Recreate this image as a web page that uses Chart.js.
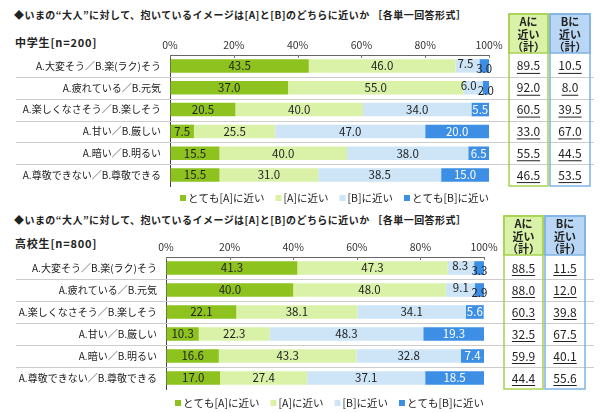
<!DOCTYPE html>
<html>
<head>
<meta charset="utf-8">
<script src="https://cdn.jsdelivr.net/npm/chart.js@4.4.0/dist/chart.umd.min.js"></script>
<style>
  body { margin: 0; background: #fff; }
  #wrap { position: relative; width: 600px; height: 413px; overflow: hidden; font-family: "Noto Sans CJK JP", sans-serif; }
  canvas { position: absolute; left: 0; }
  .title { position: absolute; left: 14px; font-size: 10px; line-height: 14px; font-weight: bold; color: #222; white-space: nowrap; letter-spacing: 0.45px; }
  .group { position: absolute; left: 15px; font-size: 11px; line-height: 14px; font-weight: bold; color: #222; white-space: nowrap; letter-spacing: 0.8px; }
</style>
</head>
<body>
<div id="wrap">
  <div class="title" style="top:8px">◆いまの“大人”に対して、抱いているイメージは[A]と[B]のどちらに近いか ［各単一回答形式］</div>
  <div class="group" style="top:35px">中学生[n=200]</div>
  <div class="title" style="top:213px">◆いまの“大人”に対して、抱いているイメージは[A]と[B]のどちらに近いか ［各単一回答形式］</div>
  <div class="group" style="top:236px">高校生[n=800]</div>
  <canvas id="chart-jhs" width="600" height="206" style="top:0"></canvas>
  <canvas id="chart-hs" width="600" height="207" style="top:206px"></canvas>
</div>
<script>
const categories = ['A.大変そう／B.楽(ラク)そう', 'A.疲れている／B.元気', 'A.楽しくなさそう／B.楽しそう', 'A.甘い／B.厳しい', 'A.暗い／B.明るい', 'A.尊敬できない／B.尊敬できる'];
const seriesNames = ['とても[A]に近い', '[A]に近い', '[B]に近い', 'とても[B]に近い'];
const seriesColors = ['#8dc21f', '#d9f2a8', '#cde5f7', '#3d8fe6'];
const tickValues = [0, 20, 40, 60, 80, 100];

// 中学生 n=200
const jhsVeryA = [43.5, 37.0, 20.5, 7.5, 15.5, 15.5];
const jhsA     = [46.0, 55.0, 40.0, 25.5, 40.0, 31.0];
const jhsB     = [7.5, 6.0, 34.0, 47.0, 38.0, 38.5];
const jhsVeryB = [3.0, 2.0, 5.5, 20.0, 6.5, 15.0];
const jhsTotalA = [89.5, 92.0, 60.5, 33.0, 55.5, 46.5];
const jhsTotalB = [10.5, 8.0, 39.5, 67.0, 44.5, 53.5];

// 高校生 n=800
const hsVeryA = [41.3, 40.0, 22.1, 10.3, 16.6, 17.0];
const hsA     = [47.3, 48.0, 38.1, 22.3, 43.3, 27.4];
const hsB     = [8.3, 9.1, 34.1, 48.3, 32.8, 37.1];
const hsVeryB = [3.3, 2.9, 5.6, 19.3, 7.4, 18.5];
const hsTotalA = [88.5, 88.0, 60.3, 32.5, 59.9, 44.4];
const hsTotalB = [11.5, 12.0, 39.8, 67.5, 40.1, 55.6];

const FONT = '"Noto Sans CJK JP", sans-serif';

const decor = {
    id: 'decor',
    beforeDatasetsDraw(chart) {
        const { ctx, scales: { y } } = chart;
        ctx.save();
        ctx.strokeStyle = '#cccccc';
        ctx.lineWidth = 1;
        for (let i = 1; i < chart.data.labels.length; i++) {
            const yy = Math.round((y.getPixelForValue(i - 1) + y.getPixelForValue(i)) / 2) + 0.5;
            ctx.beginPath();
            ctx.moveTo(16, yy);
            ctx.lineTo(594, yy);
            ctx.stroke();
        }
        ctx.restore();
    },
    afterDatasetsDraw(chart, args, opts) {
        const { ctx, chartArea: ca, scales: { x, y } } = chart;
        ctx.save();

        // small inward ticks on the top axis
        ctx.strokeStyle = '#777';
        ctx.lineWidth = 1;
        tickValues.forEach(v => {
            const px = Math.round(x.getPixelForValue(v)) + 0.5;
            ctx.beginPath();
            ctx.moveTo(px, ca.top);
            ctx.lineTo(px, ca.top + 3);
            ctx.stroke();
        });

        // values inside the bars
        ctx.font = '11.5px ' + FONT;
        ctx.textBaseline = 'middle';
        const ds = chart.data.datasets;
        for (let j = 0; j < chart.data.labels.length; j++) {
            const lastSmall = ds[3].data[j] < 5;
            ds.forEach((d, i) => {
                const bar = chart.getDatasetMeta(i).data[j];
                const v = d.data[j];
                let cx = (bar.x + bar.base) / 2;
                let cy = bar.y;
                ctx.textAlign = 'center';
                if (lastSmall && i === 2) {
                    ctx.textAlign = 'right';
                    cx = bar.x - 6;
                    cy = bar.y - 2;
                }
                if (lastSmall && i === 3) {
                    cy = bar.y + 3;
                }
                ctx.fillStyle = i === 3 && !lastSmall ? '#ffffff' : '#222222';
                ctx.fillText(v.toFixed(1), cx, cy);
            });
        }

        // total columns
        const cols = [
            { x: ca.right + 20, w: 39, fill: '#d9f2a8', line: '#a8d150', vals: opts.totalA, head: ['Aに', '近い', '（計）'] },
            { x: ca.right + 61, w: 40, fill: '#b9d7f4', line: '#7fb2e4', vals: opts.totalB, head: ['Bに', '近い', '（計）'] }
        ];
        const headTop = ca.top - 41;
        cols.forEach(c => {
            ctx.fillStyle = c.fill;
            ctx.fillRect(c.x, headTop, c.w, 39);
            ctx.strokeStyle = c.line;
            ctx.lineWidth = 1.5;
            ctx.strokeRect(c.x, headTop, c.w, ca.bottom - headTop);
            ctx.strokeRect(c.x, headTop, c.w, 39);

            ctx.fillStyle = '#222';
            ctx.textAlign = 'center';
            ctx.font = 'bold 11px ' + FONT;
            c.head.forEach((t, k) => ctx.fillText(t, c.x + c.w / 2, headTop + 8 + k * 12.5));

            ctx.font = '12px ' + FONT;
            c.vals.forEach((v, j) => {
                const t = v.toFixed(1);
                const cx = c.x + c.w / 2;
                const cy = y.getPixelForValue(j);
                ctx.fillStyle = '#222';
                ctx.fillText(t, cx, cy);
                const tw = ctx.measureText(t).width;
                ctx.fillRect(cx - tw / 2, cy + 7, tw, 1);
            });
        });

        // legend
        let lx = opts.legendX;
        const ly = opts.legendY;
        ctx.font = '10.5px ' + FONT;
        ctx.textAlign = 'left';
        ds.forEach(d => {
            ctx.fillStyle = d.backgroundColor;
            ctx.fillRect(lx, ly - 3, 6, 6);
            ctx.fillStyle = '#222';
            ctx.fillText(d.label, lx + 8, ly);
            lx += 8 + ctx.measureText(d.label).width + 11;
        });

        ctx.restore();
    }
};

function makeChart(id, values, totals, geo) {
    const ctx = document.getElementById(id).getContext('2d');
    return new Chart(ctx, {
        type: 'bar',
        data: {
            labels: categories,
            datasets: values.map((vals, i) => ({
                label: seriesNames[i],
                data: vals,
                backgroundColor: seriesColors[i],
                barPercentage: 0.62,
                categoryPercentage: 1
            }))
        },
        options: {
            indexAxis: 'y',
            responsive: false,
            animation: false,
            layout: { padding: { left: 0, top: 0, right: geo.padRight, bottom: geo.padBottom } },
            scales: {
                x: {
                    position: 'top',
                    stacked: true,
                    min: 0,
                    max: 100,
                    afterFit: s => { s.height = geo.axisHeight; },
                    grid: { drawOnChartArea: false, drawTicks: false },
                    border: { display: true, color: '#666', width: 1 },
                    ticks: {
                        stepSize: 20,
                        padding: 4,
                        color: '#333',
                        font: { family: FONT, size: 10.5 },
                        callback: v => v + '%'
                    }
                },
                y: {
                    stacked: true,
                    afterFit: s => { s.width = geo.axisWidth; },
                    grid: { drawOnChartArea: false, drawTicks: false },
                    border: { display: true, color: '#444', width: 1 },
                    ticks: {
                        padding: 9,
                        color: '#222',
                        font: { family: FONT, size: 10 }
                    }
                }
            },
            plugins: {
                legend: { display: false },
                tooltip: { enabled: false },
                decor: { totalA: totals[0], totalB: totals[1], legendX: geo.legendX, legendY: geo.legendY }
            }
        },
        plugins: [decor]
    });
}

makeChart('chart-jhs', [jhsVeryA, jhsA, jhsB, jhsVeryB], [jhsTotalA, jhsTotalB],
    { axisWidth: 170, axisHeight: 55, padRight: 111, padBottom: 20, legendX: 180, legendY: 198 });
makeChart('chart-hs', [hsVeryA, hsA, hsB, hsVeryB], [hsTotalA, hsTotalB],
    { axisWidth: 166, axisHeight: 51, padRight: 116, padBottom: 24, legendX: 175, legendY: 197 });
</script>
</body>
</html>
